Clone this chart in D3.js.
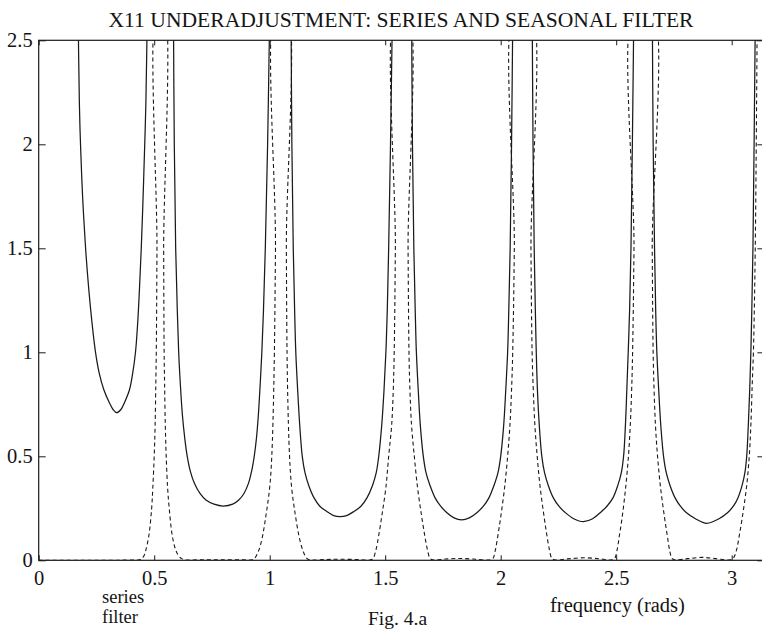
<!DOCTYPE html>
<html>
<head>
<meta charset="utf-8">
<script src="https://cdn.jsdelivr.net/npm/d3@7"></script>
<style>
  html, body { margin: 0; padding: 0; background: #fff; }
  svg { display: block; }
  text { font-family: "Liberation Serif", "Times New Roman", serif; fill: #141414; }
</style>
</head>
<body>
<svg id="chart" width="762" height="630"></svg>
<script>
// Tick values and labels
const xTicks = [0, 0.5, 1, 1.5, 2, 2.5, 3];
const xTickLabels = ["0", "0.5", "1", "1.5", "2", "2.5", "3"];
const yTicks = [0, 0.5, 1, 1.5, 2, 2.5];
const yTickLabels = ["0", "0.5", "1", "1.5", "2", "2.5"];

// Series pseudo-spectrum: one branch between each pair of poles (frequency, value)
const seriesBranch1 = [[0.170,2.7],[0.176,2.2],[0.181,2.0],[0.190,1.75],[0.203,1.5],[0.217,1.3],[0.230,1.15],[0.246,1.0],[0.262,0.9],[0.282,0.82],[0.305,0.76],[0.322,0.725],[0.338,0.71],[0.356,0.725],[0.372,0.76],[0.393,0.82],[0.407,0.9],[0.419,1.0],[0.429,1.15],[0.436,1.3],[0.444,1.5],[0.452,1.75],[0.459,2.0],[0.464,2.2],[0.471,2.7]];
const seriesBranch2 = [[0.583,2.7],[0.587,2.0],[0.593,1.5],[0.600,1.2],[0.606,1.0],[0.613,0.85],[0.622,0.7],[0.633,0.58],[0.643,0.5],[0.656,0.43],[0.674,0.37],[0.699,0.32],[0.724,0.29],[0.759,0.27],[0.799,0.261],[0.840,0.27],[0.866,0.29],[0.888,0.32],[0.908,0.37],[0.922,0.43],[0.933,0.5],[0.942,0.58],[0.951,0.7],[0.959,0.85],[0.966,1.0],[0.973,1.2],[0.981,1.5],[0.991,2.0],[1.001,2.7]];
const seriesBranch3 = [[1.092,2.7],[1.096,2.0],[1.102,1.5],[1.108,1.2],[1.113,1.0],[1.121,0.82],[1.130,0.65],[1.141,0.5],[1.153,0.42],[1.169,0.36],[1.192,0.30],[1.217,0.26],[1.247,0.235],[1.277,0.215],[1.304,0.21],[1.333,0.215],[1.365,0.235],[1.395,0.26],[1.421,0.30],[1.445,0.36],[1.461,0.42],[1.472,0.5],[1.485,0.65],[1.495,0.82],[1.503,1.0],[1.509,1.2],[1.515,1.5],[1.523,2.0],[1.532,2.7]];
const seriesBranch4 = [[1.614,2.7],[1.618,2.0],[1.624,1.5],[1.630,1.2],[1.635,1.0],[1.643,0.82],[1.652,0.65],[1.665,0.5],[1.677,0.42],[1.694,0.36],[1.716,0.30],[1.740,0.26],[1.766,0.23],[1.796,0.205],[1.831,0.194],[1.866,0.205],[1.898,0.23],[1.925,0.26],[1.949,0.30],[1.971,0.36],[1.988,0.42],[2.000,0.5],[2.013,0.65],[2.022,0.82],[2.030,1.0],[2.035,1.2],[2.041,1.5],[2.047,2.0],[2.053,2.7]];
const seriesBranch5 = [[2.136,2.7],[2.140,2.0],[2.145,1.5],[2.150,1.2],[2.154,1.0],[2.159,0.82],[2.167,0.65],[2.178,0.5],[2.190,0.42],[2.206,0.36],[2.228,0.30],[2.252,0.26],[2.279,0.23],[2.316,0.20],[2.358,0.186],[2.398,0.20],[2.432,0.23],[2.460,0.26],[2.486,0.30],[2.507,0.36],[2.522,0.42],[2.532,0.5],[2.540,0.65],[2.546,0.82],[2.552,1.0],[2.558,1.2],[2.564,1.5],[2.570,2.0],[2.577,2.7]];
const seriesBranch6 = [[2.656,2.7],[2.660,2.0],[2.666,1.5],[2.671,1.2],[2.676,1.0],[2.684,0.82],[2.693,0.65],[2.705,0.5],[2.717,0.42],[2.733,0.36],[2.755,0.30],[2.778,0.26],[2.803,0.23],[2.843,0.20],[2.892,0.178],[2.945,0.20],[2.983,0.23],[3.007,0.26],[3.027,0.30],[3.045,0.36],[3.057,0.42],[3.065,0.5],[3.072,0.65],[3.078,0.82],[3.083,1.0],[3.087,1.2],[3.092,1.5],[3.097,2.0],[3.103,2.7]];
const seriesBranches = [seriesBranch1, seriesBranch2, seriesBranch3, seriesBranch4, seriesBranch5, seriesBranch6];

// Seasonal filter: narrow peaks at the seasonal frequencies, near zero between them
const filterLeft = [[0,0],[0.2,0],[0.40,0.001]];
const filterPeak1 = [[0.435,0.002],[0.446,0.008],[0.455,0.02],[0.464,0.05],[0.477,0.12],[0.489,0.25],[0.494,0.35],[0.500,0.5],[0.504,0.65],[0.507,0.85],[0.509,1.0],[0.512,1.5],[0.515,2.7],[0.538,2.7],[0.541,1.5],[0.543,1.0],[0.545,0.85],[0.548,0.65],[0.552,0.5],[0.558,0.35],[0.565,0.25],[0.578,0.12],[0.593,0.05],[0.607,0.02],[0.619,0.008],[0.633,0.002]];
const filterGap1 = [[0.72,0.003],[0.80,0.002],[0.88,0.003]];
const filterPeak2 = [[0.922,0.002],[0.935,0.01],[0.950,0.04],[0.966,0.1],[0.985,0.225],[1.000,0.35],[1.009,0.5],[1.018,0.85],[1.025,1.5],[1.030,2.7],[1.069,2.7],[1.072,1.5],[1.077,0.85],[1.086,0.5],[1.095,0.35],[1.110,0.225],[1.130,0.1],[1.146,0.04],[1.160,0.01],[1.172,0.002]];
const filterGap2 = [[1.24,0.004],[1.30,0.005],[1.37,0.004]];
const filterPeak3 = [[1.437,0.002],[1.448,0.01],[1.460,0.05],[1.472,0.12],[1.487,0.225],[1.503,0.35],[1.515,0.5],[1.528,0.65],[1.535,0.82],[1.539,1.0],[1.544,1.5],[1.550,2.7],[1.593,2.7],[1.599,1.5],[1.603,1.0],[1.607,0.82],[1.614,0.65],[1.626,0.5],[1.640,0.35],[1.656,0.225],[1.671,0.12],[1.683,0.05],[1.694,0.01],[1.706,0.002]];
const filterGap3 = [[1.76,0.006],[1.82,0.009],[1.88,0.006]];
const filterPeak4 = [[1.955,0.002],[1.967,0.01],[1.977,0.05],[1.988,0.12],[1.999,0.2],[2.017,0.35],[2.030,0.5],[2.040,0.65],[2.047,0.82],[2.052,1.0],[2.059,1.5],[2.066,2.7],[2.125,2.7],[2.131,1.5],[2.136,1.0],[2.141,0.82],[2.148,0.65],[2.158,0.5],[2.171,0.35],[2.189,0.2],[2.200,0.12],[2.211,0.05],[2.221,0.01],[2.233,0.002]];
const filterGap4 = [[2.29,0.007],[2.36,0.012],[2.43,0.007]];
const filterPeak5 = [[2.482,0.002],[2.494,0.01],[2.504,0.05],[2.514,0.12],[2.525,0.2],[2.541,0.35],[2.553,0.5],[2.561,0.65],[2.567,0.82],[2.571,1.0],[2.577,1.5],[2.583,2.7],[2.651,2.7],[2.656,1.5],[2.660,1.0],[2.664,0.82],[2.670,0.65],[2.679,0.5],[2.692,0.35],[2.710,0.2],[2.721,0.12],[2.731,0.05],[2.741,0.01],[2.753,0.002]];
const filterGap5 = [[2.81,0.008],[2.87,0.014],[2.93,0.008]];
const filterPeak6 = [[2.995,0.002],[3.007,0.01],[3.021,0.05],[3.033,0.12],[3.045,0.2],[3.064,0.35],[3.076,0.5],[3.083,0.65],[3.089,0.85],[3.094,1.0],[3.102,1.5],[3.111,2.7]];
const filterCurve = [].concat(filterLeft, filterPeak1, filterGap1, filterPeak2, filterGap2,
  filterPeak3, filterGap3, filterPeak4, filterGap4, filterPeak5, filterGap5, filterPeak6);

// Layout
const plotLeft = 38.7, plotRight = 764.4, plotTop = 40.3, plotBottom = 560.3;
const ink = "#1a1a1a";
const serif = '"Liberation Serif", "Times New Roman", serif';

const svg = d3.select("#chart");
const x = d3.scaleLinear().domain([0, Math.PI]).range([plotLeft, plotRight]);
const y = d3.scaleLinear().domain([0, 2.5]).range([plotBottom, plotTop]);

svg.append("defs").append("clipPath").attr("id", "plot-clip")
  .append("rect").attr("x", plotLeft).attr("y", plotTop)
  .attr("width", plotRight - plotLeft).attr("height", plotBottom - plotTop);

// Inward ticks on all four sides
function styleAxis(g) {
  g.attr("font-family", serif);
  g.select(".domain").remove();
  g.selectAll(".tick line").attr("stroke", ink).attr("stroke-width", 1);
  g.selectAll(".tick text").attr("fill", "#141414")
    .style("font-family", serif).style("font-size", "20.5px");
}

svg.append("g").attr("transform", `translate(0,${plotBottom})`)
  .call(d3.axisBottom(x).tickValues(xTicks).tickSize(-5).tickSizeOuter(0).tickPadding(10)
    .tickFormat((d, i) => xTickLabels[i]))
  .call(styleAxis);
svg.append("g").attr("transform", `translate(0,${plotTop})`)
  .call(d3.axisTop(x).tickValues(xTicks).tickSize(-5).tickSizeOuter(0).tickFormat(""))
  .call(styleAxis);
svg.append("g").attr("transform", `translate(${plotLeft},0)`)
  .call(d3.axisLeft(y).tickValues(yTicks).tickSize(-7).tickSizeOuter(0).tickPadding(6)
    .tickFormat((d, i) => yTickLabels[i]))
  .call(styleAxis);
svg.append("g").attr("transform", `translate(${plotRight},0)`)
  .call(d3.axisRight(y).tickValues(yTicks).tickSize(-7).tickSizeOuter(0).tickFormat(""))
  .call(styleAxis);

// Frame
svg.append("rect").attr("x", plotLeft).attr("y", plotTop)
  .attr("width", plotRight - plotLeft).attr("height", plotBottom - plotTop)
  .attr("fill", "none").attr("stroke", ink).attr("stroke-width", 1.2);

const line = d3.line().x(d => x(d[0])).y(d => y(d[1])).curve(d3.curveCatmullRom.alpha(0.5));
const plot = svg.append("g").attr("clip-path", "url(#plot-clip)");

plot.append("path").datum(filterCurve)
  .attr("d", line).attr("fill", "none").attr("stroke", ink)
  .attr("stroke-width", 1.1).attr("stroke-dasharray", "4,3");

plot.selectAll("path.series").data(seriesBranches).join("path")
  .attr("class", "series").attr("d", line).attr("fill", "none")
  .attr("stroke", ink).attr("stroke-width", 1.25);

// Titles and labels
svg.append("text").attr("x", 401).attr("y", 27).attr("text-anchor", "middle")
  .style("font-size", "21.6px").text("X11 UNDERADJUSTMENT: SERIES AND SEASONAL FILTER");
svg.append("text").attr("x", 102).attr("y", 603).style("font-size", "18.5px").text("series");
svg.append("text").attr("x", 102).attr("y", 623).style("font-size", "18.5px").text("filter");
svg.append("text").attr("x", 550).attr("y", 612).style("font-size", "20.5px").text("frequency (rads)");
svg.append("text").attr("x", 368).attr("y", 625).style("font-size", "19.5px").text("Fig. 4.a");
</script>
</body>
</html>
